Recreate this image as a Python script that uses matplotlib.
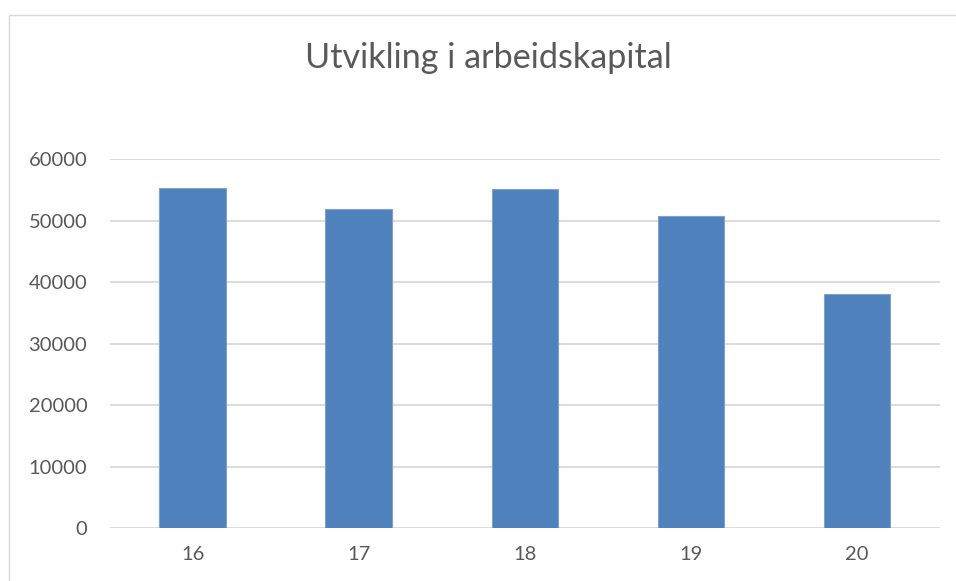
import matplotlib
matplotlib.use("Agg")
import matplotlib.pyplot as plt
from matplotlib.patches import Rectangle

categories = ["16", "17", "18", "19", "20"]
values = [55280, 51870, 55120, 50670, 38100]
yticks = [0, 10000, 20000, 30000, 40000, 50000, 60000]
title = "Utvikling i arbeidskapital"

W, H = 956, 581
fig = plt.figure(figsize=(W / 100, H / 100), dpi=100)
plt.rcParams['font.family'] = ['Lato', 'DejaVu Sans']

# chart border (only top and left visible)
fig.patches.append(Rectangle((8.5 / W, -0.2), 1.2, 1 - 14.5 / H + 0.2,
                             transform=fig.transFigure, fill=False,
                             edgecolor="#D9D9D9", linewidth=1.0))

left, right = 109.5 / W, 940 / W
bottom, top = 1 - 528.3 / H, 1 - 159 / H
ax = fig.add_axes([left, bottom, right - left, top - bottom])

x = range(len(categories))
ax.bar(x, values, width=0.4, color="#4F81BD", edgecolor="#7FA1CF",
       linewidth=0.8, zorder=3)
ax.set_xlim(-0.5, len(categories) - 0.5)
ax.set_ylim(0, 60000)
ax.set_yticks(yticks)
ax.set_yticklabels([str(v) for v in yticks])
ax.set_xticks(list(x))
ax.set_xticklabels(categories)
ax.grid(axis="y", color="#D9D9D9", linewidth=1.3, zorder=0)
for s in ["top", "right", "left", "bottom"]:
    ax.spines[s].set_visible(False)
ax.tick_params(axis="both", length=0, labelsize=14.5, colors="#595959")
ax.tick_params(axis="y", pad=16)
ax.tick_params(axis="x", pad=13)

fig.text(488.5 / W, 1 - 58 / H, title, ha="center", va="center",
         fontsize=24.6, color="#595959")

fig.savefig("out.png", dpi=100)
